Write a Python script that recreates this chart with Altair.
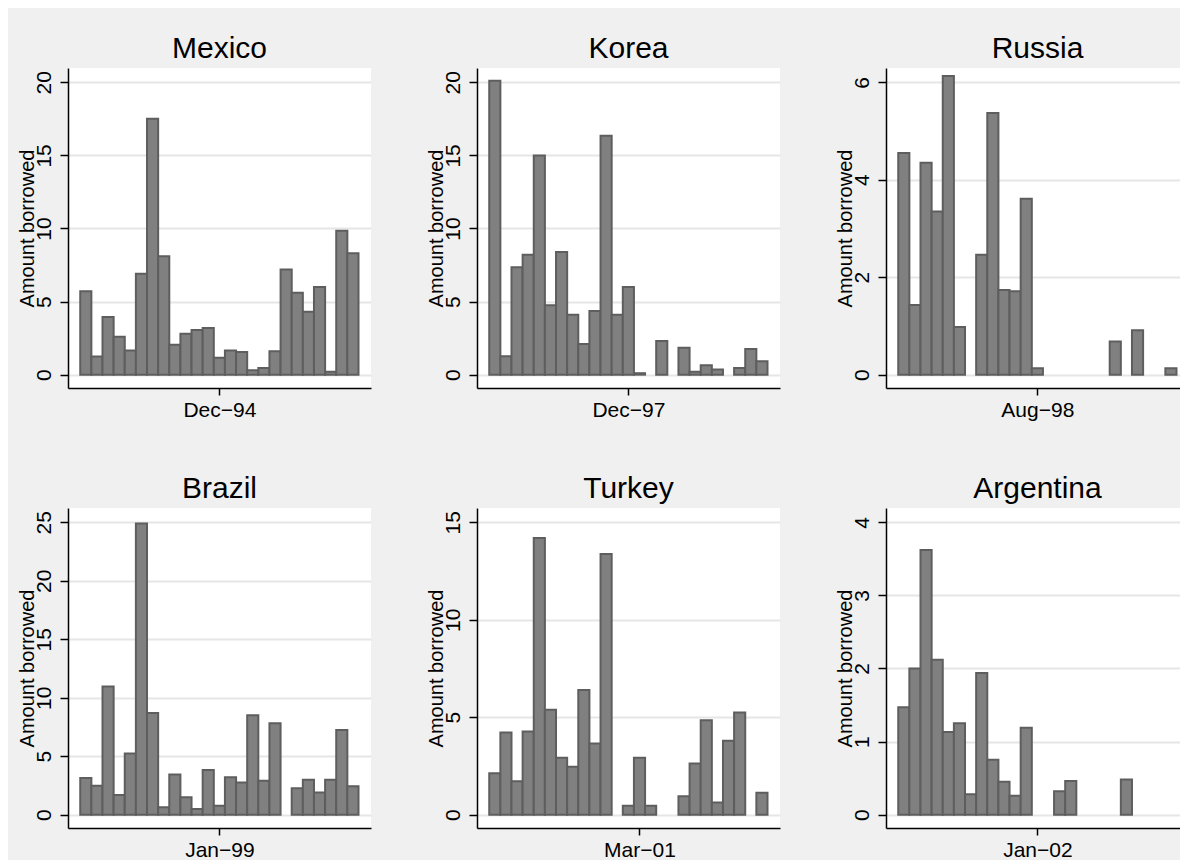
import altair as alt
import pandas as pd

FONT = "Liberation Sans"

countries = ["Mexico", "Korea", "Russia", "Brazil", "Turkey", "Argentina"]
crisis_labels = ["Dec−94", "Dec−97", "Aug−98", "Jan−99", "Mar−01", "Jan−02"]
# month offset (relative to the labelled crisis month) of the first bar
first_month = [-12, -12, -12, -12, -13, -12]
y_ticks = [
    [0, 5, 10, 15, 20],
    [0, 5, 10, 15, 20],
    [0, 2, 4, 6],
    [0, 5, 10, 15, 20, 25],
    [0, 5, 10, 15],
    [0, 1, 2, 3, 4],
]

mexico = [5.7, 1.25, 3.95, 2.6, 1.65, 6.9, 17.5, 8.1, 2.05, 2.8, 3.05, 3.2, 1.15,
          1.65, 1.55, 0.3, 0.45, 1.6, 7.2, 5.6, 4.3, 6.0, 0.2, 9.85, 8.3]
korea = [20.1, 1.26, 7.35, 8.2, 15.0, 4.75, 8.4, 4.1, 2.1, 4.35, 16.35, 4.1, 6.0,
         0.1, None, 2.3, None, 1.85, 0.2, 0.65, 0.35, None, 0.45, 1.75, 0.92]
russia = [4.55, 1.43, 4.35, 3.35, 6.13, 0.98, None, 2.46, 5.37, 1.74, 1.71, 3.61, 0.13,
          None, None, None, None, None, None, 0.68, None, 0.91, None, None, 0.13]
brazil = [3.13, 2.47, 10.95, 1.68, 5.23, 24.9, 8.7, 0.63, 3.44, 1.5, 0.48, 3.81, 0.77,
          3.19, 2.76, 8.5, 2.9, 7.82, None, 2.25, 2.99, 1.9, 2.99, 7.25, 2.42]
turkey = [2.12, 4.21, 1.71, 4.27, 14.2, 5.38, 2.92, 2.46, 6.4, 3.65, 13.38, None, 0.46,
          2.92, 0.46, None, None, 0.94, 2.63, 4.85, 0.63, 3.79, 5.24, None, 1.13]
argentina = [1.47, 2.0, 3.62, 2.12, 1.13, 1.25, 0.28, 1.94, 0.75, 0.45, 0.26, 1.19, None,
             None, 0.32, 0.46, None, None, None, None, 0.48, None, None, None, None]

series = [mexico, korea, russia, brazil, turkey, argentina]

# plot widths per column (the right column is cut by the picture edge)
col_width = [303, 303, 294]
H = 320
SLOT = 11.13  # px per month


def panel(name, label, m0, vals, ticks, w):
    months = list(range(m0, m0 + len(vals)))
    df = pd.DataFrame({"month": months, "amount": vals}).dropna()
    df["lo"] = df["month"] - 0.5
    df["hi"] = df["month"] + 0.5
    df["base"] = 0.0
    top = ticks[-1]
    x0 = m0 - 0.5 - 1.1
    xdom = [x0, x0 + w / SLOT]
    ydom = [-0.0456 * top, 1.049 * top]
    title = alt.TitleParams(
        name, fontSize=30, font=FONT, fontWeight="normal", color="black",
        anchor="middle", frame="group", offset=-20, baseline="alphabetic",
        dx=(303 - w) / 2,
    )
    return (
        alt.Chart(df, title=title)
        .mark_bar(fill="#808080", stroke="#5e5e5e", strokeWidth=2)
        .encode(
            x=alt.X("lo:Q", scale=alt.Scale(domain=xdom, nice=False, zero=False),
                    axis=alt.Axis(values=[0], labelExpr=f"'{label}'", grid=False, title=None)),
            x2="hi:Q",
            y=alt.Y("amount:Q", scale=alt.Scale(domain=ydom, nice=False, zero=False),
                    axis=alt.Axis(values=ticks, title="Amount borrowed")),
            y2="base:Q",
        )
        .properties(width=w, height=H)
    )


panels = [panel(c, l, m, s, t, col_width[i % 3]) for i, (c, l, m, s, t) in
          enumerate(zip(countries, crisis_labels, first_month, series, y_ticks))]

chart = (
    alt.concat(*panels, columns=3, spacing={"row": 120, "column": 106},
               bounds="flush", align="each")
    .properties(padding={"left": 9, "top": 26, "right": 0, "bottom": 0},
                background="#f0f0f0")
    .configure_view(fill="white", strokeWidth=0)
    .configure_axis(
        domainColor="black", domainWidth=1.5, tickColor="black", tickWidth=1.5,
        labelColor="black", labelFont=FONT, titleFont=FONT, labelFontSize=21,
        titleFontSize=20, titleColor="black", titleFontWeight="normal",
        gridColor="#e6e6e6", gridWidth=2,
    )
    .configure_axisX(labelFontSize=21, labelPadding=4, tickSize=7)
    .configure_axisY(
        labelAngle=270, labelAlign="center", labelBaseline="alphabetic",
        labelPadding=10, tickSize=8, titleAngle=270, titleAlign="center",
        titleBaseline="alphabetic", titleX=-35, titleY=160,
    )
)

chart.save("out.html", embed_options={"renderer": "svg", "actions": False})
